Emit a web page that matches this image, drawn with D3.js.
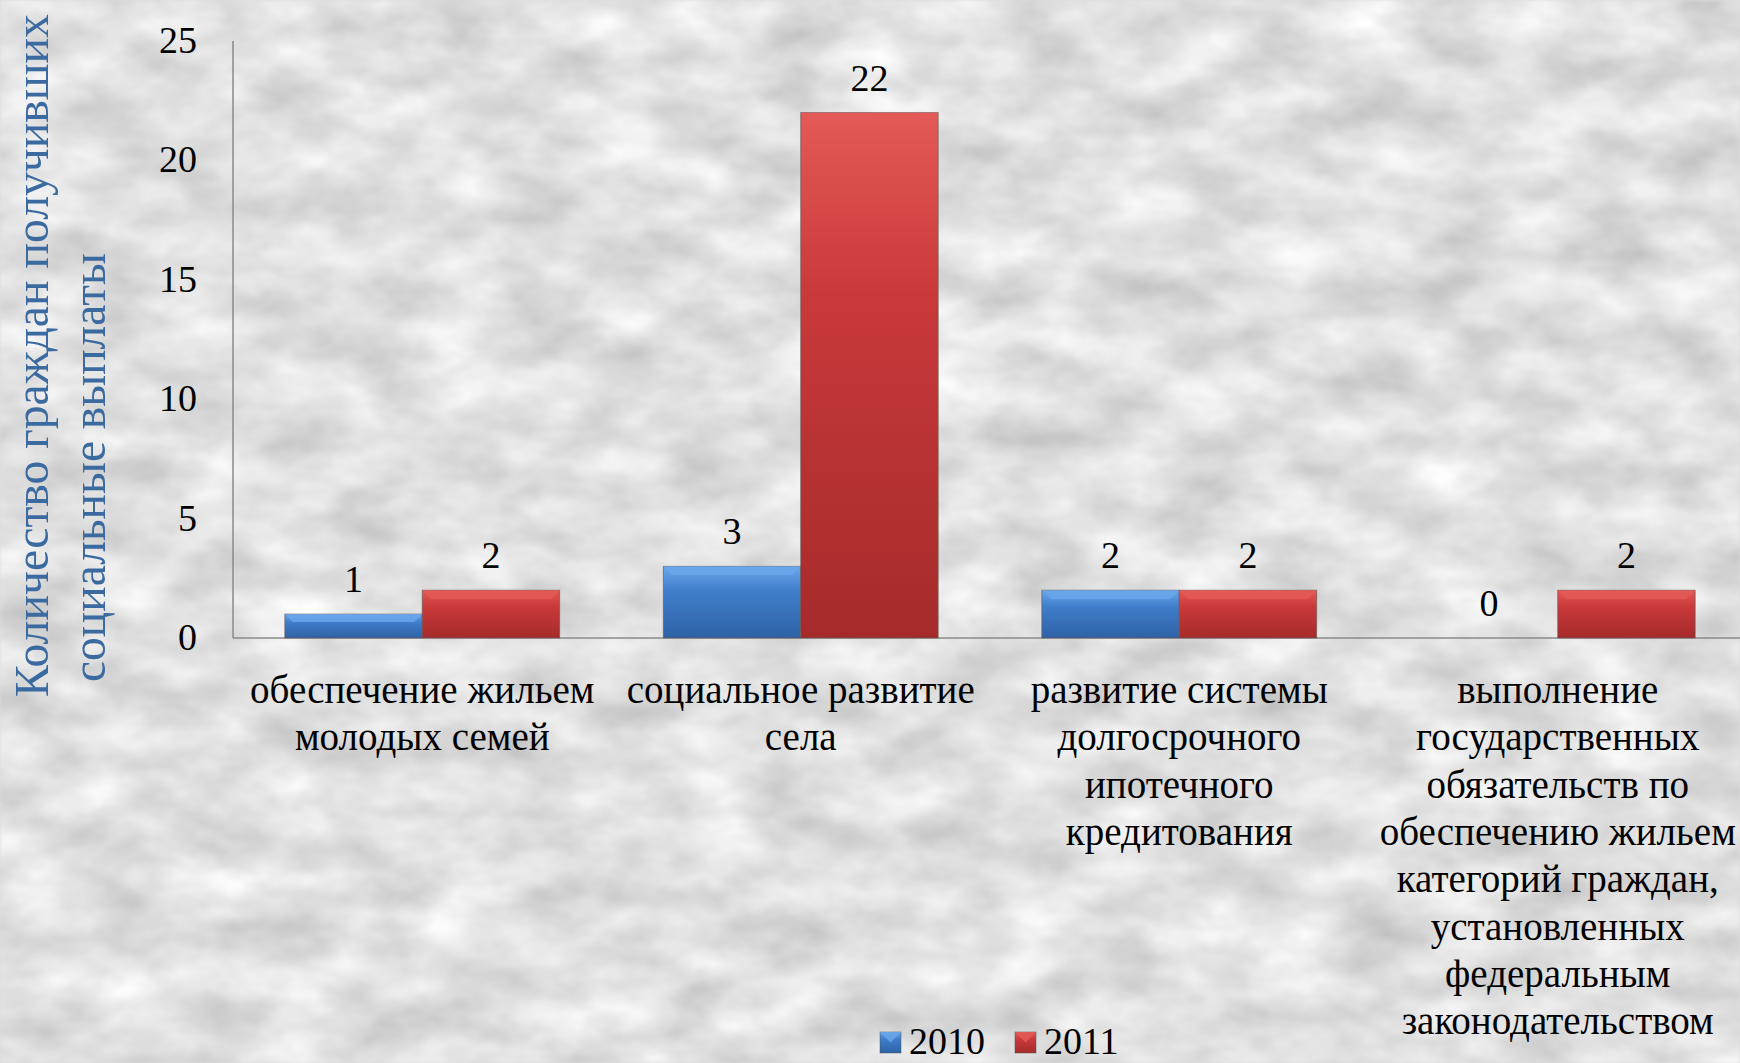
<!DOCTYPE html>
<html>
<head>
    <meta charset="utf-8">
    <script src="https://cdnjs.cloudflare.com/ajax/libs/d3/7.8.5/d3.min.js"></script>
    <style>
        body {
            margin: 0;
            padding: 0;
            background-color: #dcdcdc;
            overflow: hidden;
        }
        svg {
            display: block;
        }
    </style>
</head>
<body>
    <div id="chart"></div>

    <script>
        // Категории (подписи разбиты по строкам как на слайде)
        const categories = [
            ["обеспечение жильем", "молодых семей"],
            ["социальное развитие", "села"],
            ["развитие системы", "долгосрочного", "ипотечного", "кредитования"],
            ["выполнение", "государственных", "обязательств по", "обеспечению жильем",
             "категорий граждан,", "установленных", "федеральным", "законодательством"]
        ];
        const seriesNames = ["2010", "2011"];
        const values2010 = [1, 3, 2, 0];
        const values2011 = [2, 22, 2, 2];
        const yTicks = [0, 5, 10, 15, 20, 25];
        const yTitleLines = ["Количество граждан получивших", "социальные выплаты"];

        const FONT = '"Liberation Serif", "Times New Roman", serif';
        const W = 1740, H = 1063;
        const plot = { left: 233, right: 1747, top: 41, bottom: 638 };

        const svg = d3.select("#chart").append("svg")
            .attr("width", W)
            .attr("height", H);

        const defs = svg.append("defs");

        // mottled grey background
        const tex = defs.append("filter")
            .attr("id", "granite")
            .attr("x", 0).attr("y", 0).attr("width", "100%").attr("height", "100%")
            .attr("color-interpolation-filters", "sRGB");
        tex.append("feTurbulence")
            .attr("type", "fractalNoise")
            .attr("baseFrequency", "0.012 0.022")
            .attr("numOctaves", 4)
            .attr("seed", 7);
        tex.append("feColorMatrix")
            .attr("type", "matrix")
            .attr("values", "0.3 0 0 0 0.73  0.3 0 0 0 0.73  0.3 0 0 0 0.73  0 0 0 0 1");
        tex.append("feGaussianBlur").attr("stdDeviation", 1.5);

        svg.append("rect")
            .attr("width", W).attr("height", H)
            .attr("filter", "url(#granite)");

        // bar gradients
        const palettes = {
            "2010": { light: "#6aa6ea", mid: "#3f7dcb", dark: "#2e62a6" },
            "2011": { light: "#e35a56", mid: "#c9393a", dark: "#a52b2a" }
        };
        seriesNames.forEach(s => {
            const g = defs.append("linearGradient")
                .attr("id", "grad" + s)
                .attr("x1", 0).attr("y1", 0).attr("x2", 0).attr("y2", 1);
            g.append("stop").attr("offset", "0%").attr("stop-color", palettes[s].light);
            g.append("stop").attr("offset", "35%").attr("stop-color", palettes[s].mid);
            g.append("stop").attr("offset", "100%").attr("stop-color", palettes[s].dark);
        });

        const x0 = d3.scaleBand()
            .domain(d3.range(categories.length))
            .range([plot.left, plot.right])
            .paddingInner(0.274)
            .paddingOuter(0.137);

        const x1 = d3.scaleBand()
            .domain(seriesNames)
            .range([0, x0.bandwidth()]);

        const y = d3.scaleLinear()
            .domain([0, 25])
            .range([plot.bottom, plot.top]);

        // axes
        svg.append("line")
            .attr("x1", plot.left).attr("x2", plot.left)
            .attr("y1", y(25)).attr("y2", y(0))
            .attr("stroke", "#8a8a8a").attr("stroke-width", 1.5);
        svg.append("line")
            .attr("x1", plot.left).attr("x2", W)
            .attr("y1", y(0)).attr("y2", y(0))
            .attr("stroke", "#8a8a8a").attr("stroke-width", 1.5);

        svg.selectAll(".tick-label")
            .data(yTicks)
            .join("text")
            .attr("class", "tick-label")
            .attr("x", 197)
            .attr("y", d => y(d) + 12)
            .attr("text-anchor", "end")
            .style("font-family", FONT)
            .style("font-size", "38px")
            .attr("fill", "#000")
            .text(d => d);

        const rows = categories.map((c, i) => ({
            i, vals: [
                { s: "2010", v: values2010[i] },
                { s: "2011", v: values2011[i] }
            ]
        }));

        const groups = svg.selectAll(".grp")
            .data(rows)
            .join("g")
            .attr("class", "grp")
            .attr("transform", d => `translate(${x0(d.i)},0)`);

        const bars = groups.selectAll(".bar")
            .data(d => d.vals)
            .join("g")
            .attr("class", "bar");

        bars.filter(d => d.v > 0).append("rect")
            .attr("x", d => x1(d.s))
            .attr("y", d => y(d.v))
            .attr("width", x1.bandwidth())
            .attr("height", d => y(0) - y(d.v))
            .attr("fill", d => `url(#grad${d.s})`)
            .attr("stroke", "#6b5a5a")
            .attr("stroke-opacity", 0.7)
            .attr("stroke-width", 1);

        // bevel highlight on top edge
        bars.filter(d => d.v > 0).append("polygon")
            .attr("points", d => {
                const xl = x1(d.s), xr = xl + x1.bandwidth(), t = y(d.v);
                const b = Math.min(9, (y(0) - t) / 3);
                return `${xl},${t} ${xr},${t} ${xr - b},${t + b} ${xl + b},${t + b}`;
            })
            .attr("fill", d => palettes[d.s].light)
            .attr("opacity", 0.8);

        bars.append("text")
            .attr("class", "value-label")
            .attr("x", d => x1(d.s) + x1.bandwidth() / 2)
            .attr("y", d => y(d.v) - 22)
            .attr("text-anchor", "middle")
            .style("font-family", FONT)
            .style("font-size", "38px")
            .attr("fill", "#000")
            .text(d => d.v);

        // category labels
        const catText = svg.selectAll(".cat-label")
            .data(categories)
            .join("text")
            .attr("class", "cat-label")
            .attr("text-anchor", "middle")
            .style("font-family", FONT)
            .style("font-size", "39px")
            .attr("fill", "#000")
            .attr("transform", (d, i) => `translate(${x0(i) + x0.bandwidth() / 2},703)`);
        catText.selectAll("tspan")
            .data(d => d)
            .join("tspan")
            .attr("x", 0)
            .attr("y", (d, j) => j * 47.3)
            .text(d => d);

        // y title (two lines, narrow): squeeze each line to its length
        const titlePos = [{ x: 48, start: 697, len: 683 }, { x: 105, start: 682, len: 429 }];
        svg.selectAll(".ytitle")
            .data(yTitleLines)
            .join("text")
            .attr("class", "ytitle")
            .attr("text-anchor", "start")
            .style("font-family", FONT)
            .style("font-size", "49px")
            .attr("fill", "#3b6aa0")
            .text(d => d)
            .attr("transform", function (d, i) {
                const natural = this.getComputedTextLength() || titlePos[i].len;
                const k = titlePos[i].len / natural;
                return `translate(${titlePos[i].x},${titlePos[i].start}) rotate(-90) scale(${k},1)`;
            });

        // legend
        const legend = svg.append("g").attr("transform", "translate(880,1032)");
        const lg = legend.selectAll("g")
            .data(seriesNames)
            .join("g")
            .attr("transform", (d, i) => `translate(${i * 135},0)`);
        lg.append("rect")
            .attr("width", 21).attr("height", 21)
            .attr("fill", d => `url(#grad${d})`)
            .attr("stroke", "#555").attr("stroke-opacity", 0.5);
        lg.append("polygon")
            .attr("points", "0,0 21,0 10.5,10.5")
            .attr("fill", d => palettes[d].light).attr("opacity", 0.8);
        lg.append("text")
            .attr("x", 29)
            .attr("y", 22)
            .style("font-family", FONT)
            .style("font-size", "38px")
            .attr("fill", "#000")
            .text(d => d);
    </script>
</body>
</html>
